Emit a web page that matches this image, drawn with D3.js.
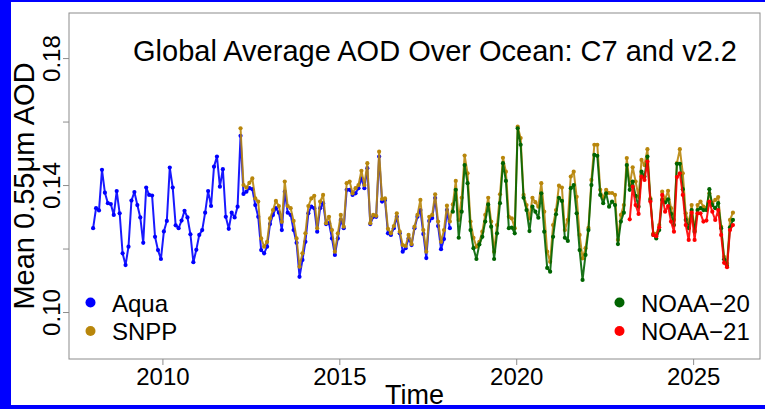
<!DOCTYPE html>
<html>
<head>
<meta charset="utf-8">
<script src="https://cdn.jsdelivr.net/npm/d3@7"></script>
<style>
    html, body { margin: 0; padding: 0; background: #fff; }
    svg { display: block; font-family: "Liberation Sans", Arial, Helvetica, sans-serif; }
</style>
</head>
<body>
<div id="chart"></div>
<script>
// Global average AOD over ocean — monthly series per sensor.
// Each series: start [year, month] + monthly values.

const aquaStart = [2008, 1];
const aquaValues = [
    0.1264, 0.1327, 0.1320, 0.1448, 0.1376, 0.1343, 0.1340, 0.1306, 0.1381, 0.1311, 0.1185, 0.1148,
    0.1206, 0.1351, 0.1378, 0.1337, 0.1298, 0.1218, 0.1392, 0.1369, 0.1367, 0.1237, 0.1195, 0.1167,
    0.1254, 0.1287, 0.1455, 0.1392, 0.1273, 0.1264, 0.1288, 0.1319, 0.1298, 0.1245, 0.1157, 0.1196,
    0.1243, 0.1258, 0.1313, 0.1381, 0.1334, 0.1458, 0.1490, 0.1395, 0.1450, 0.1300, 0.1262, 0.1313,
    0.1298, 0.1332,
    0.1555, 0.1372, 0.1379, 0.1390, 0.1387, 0.1337, 0.1300, 0.1195, 0.1185, 0.1206,
    0.1277, 0.1306, 0.1327, 0.1313, 0.1258, 0.1379, 0.1313, 0.1306, 0.1258, 0.1218, 0.1111, 0.1164,
    0.1221, 0.1311, 0.1332, 0.1327, 0.1253, 0.1327, 0.1343, 0.1277, 0.1280, 0.1232, 0.1180, 0.1232,
    0.1290, 0.1264, 0.1385, 0.1385, 0.1369, 0.1374, 0.1390, 0.1421, 0.1390, 0.1453, 0.1277, 0.1300,
    0.1300, 0.1490, 0.1348, 0.1353, 0.1248, 0.1243, 0.1264, 0.1300, 0.1248, 0.1190, 0.1201, 0.1232,
    0.1211, 0.1264, 0.1300, 0.1321, 0.1246, 0.1170, 0.1287, 0.1296, 0.1359, 0.1271, 0.1198, 0.1230,
    0.1321, 0.1264,
];

const snppStart = [2012, 3];
const snppValues = [
    0.1579, 0.1400, 0.1392, 0.1407, 0.1421, 0.1358, 0.1348, 0.1232, 0.1206, 0.1221,
    0.1295, 0.1321, 0.1350, 0.1334, 0.1284, 0.1411, 0.1334, 0.1327, 0.1287, 0.1232, 0.1143, 0.1185,
    0.1248, 0.1334, 0.1358, 0.1366, 0.1264, 0.1348, 0.1369, 0.1280, 0.1300, 0.1258, 0.1190, 0.1248,
    0.1306, 0.1269, 0.1406, 0.1411, 0.1374, 0.1390, 0.1400, 0.1445, 0.1400, 0.1469, 0.1280, 0.1306,
    0.1303, 0.1505, 0.1356, 0.1358, 0.1262, 0.1248, 0.1271, 0.1311, 0.1253, 0.1211, 0.1208, 0.1243,
    0.1214, 0.1269, 0.1306, 0.1353, 0.1258, 0.1190, 0.1300, 0.1306, 0.1371, 0.1285, 0.1221, 0.1258,
    0.1335, 0.1285, 0.1339, 0.1413, 0.1290, 0.1360, 0.1493, 0.1437, 0.1285, 0.1234, 0.1206, 0.1221,
    0.1253, 0.1306, 0.1360, 0.1285, 0.1190, 0.1274, 0.1371, 0.1486, 0.1442, 0.1300, 0.1295, 0.1264,
    0.1584, 0.1548, 0.1369, 0.1337, 0.1295, 0.1360, 0.1346, 0.1332, 0.1406, 0.1316, 0.1190, 0.1158,
    0.1274, 0.1321, 0.1398, 0.1392, 0.1258, 0.1290, 0.1427, 0.1442, 0.1363, 0.1243, 0.1169, 0.1201,
    0.1265, 0.1416, 0.1527, 0.1527, 0.1385, 0.1359, 0.1385, 0.1375, 0.1375, 0.1369, 0.1227, 0.1306,
    0.1337, 0.1485, 0.1400, 0.1456, 0.1411, 0.1363, 0.1479, 0.1463, 0.1513, 0.1358, 0.1248, 0.1246,
    0.1274, 0.1379, 0.1355, 0.1382, 0.1327, 0.1290, 0.1469, 0.1513, 0.1437, 0.1311, 0.1280, 0.1337,
    0.1258, 0.1337, 0.1348, 0.1332, 0.1327, 0.1374, 0.1343, 0.1353, 0.1362, 0.1269, 0.1174, 0.1153,
    0.1290, 0.1313,
];

const noaa20Start = [2018, 3];
const noaa20Values = [
    0.1316, 0.1385, 0.1234, 0.1316, 0.1463, 0.1406, 0.1258, 0.1201, 0.1167, 0.1213,
    0.1237, 0.1285, 0.1339, 0.1269, 0.1167, 0.1248, 0.1343, 0.1469, 0.1413, 0.1264, 0.1266, 0.1248,
    0.1579, 0.1527, 0.1360, 0.1321, 0.1255, 0.1332, 0.1316, 0.1297, 0.1374, 0.1253, 0.1139, 0.1127,
    0.1237, 0.1308, 0.1360, 0.1350, 0.1234, 0.1224, 0.1390, 0.1400, 0.1311, 0.1195, 0.1101, 0.1180,
    0.1258, 0.1400, 0.1495, 0.1492, 0.1369, 0.1343, 0.1374, 0.1332, 0.1348, 0.1337, 0.1214, 0.1285,
    0.1313, 0.1463, 0.1385, 0.1411, 0.1366, 0.1332, 0.1442, 0.1427, 0.1490, 0.1353, 0.1243, 0.1232,
    0.1258, 0.1353, 0.1345, 0.1355, 0.1309, 0.1274, 0.1467, 0.1467, 0.1387, 0.1290, 0.1264, 0.1321,
    0.1253, 0.1321, 0.1327, 0.1321, 0.1321, 0.1387, 0.1337, 0.1327, 0.1343, 0.1264, 0.1166, 0.1145,
    0.1267, 0.1290,
];

const noaa21Start = [2023, 3];
const noaa21Values = [
    0.1292, 0.1395, 0.1337, 0.1309, 0.1427, 0.1416, 0.1474, 0.1348, 0.1243, 0.1239,
    0.1267, 0.1369, 0.1316, 0.1334, 0.1285, 0.1253, 0.1425, 0.1437, 0.1369, 0.1274, 0.1227, 0.1313,
    0.1227, 0.1311, 0.1311, 0.1285, 0.1288, 0.1348, 0.1316, 0.1290, 0.1321, 0.1243, 0.1155, 0.1141,
    0.1258, 0.1274,
];

const seriesNames = ["Aqua", "SNPP", "NOAA\u221220", "NOAA\u221221"];
const seriesColors = ["#0000ff", "#b8860b", "#006400", "#ff0000"];

const xTicks = [2010, 2015, 2020, 2025];
const yTicks = [0.10, 0.12, 0.14, 0.16, 0.18];
const yTickLabels = ["0.10", "", "0.14", "", "0.18"];

const titleText = "Global Average AOD Over Ocean: C7 and v2.2";
const xLabel = "Time";
const yLabel = "Mean 0.55\u03bcm AOD";

// ---------------------------------------------------------------------

const W = 765, H = 409;
const box = { left: 69, right: 760, top: 13, bottom: 359 };

// month index -> decimal year (mid-month)
function toSeries(start, values) {
    const [y0, m0] = start;
    return values.map((v, i) => {
        const m = m0 - 1 + i;
        return { t: y0 + Math.floor(m / 12) + ((m % 12) + 0.5) / 12, v };
    });
}

const series = [
    toSeries(aquaStart, aquaValues),
    toSeries(snppStart, snppValues),
    toSeries(noaa20Start, noaa20Values),
    toSeries(noaa21Start, noaa21Values),
];

const svg = d3.select("#chart").append("svg")
    .attr("width", W).attr("height", H)
    .attr("viewBox", `0 0 ${W} ${H}`);

svg.append("rect").attr("width", W).attr("height", H).attr("fill", "#fff");

// blue frame around the picture
svg.append("rect").attr("x", 0).attr("y", 0).attr("width", 11).attr("height", H).attr("fill", "#0000ff");
svg.append("rect").attr("x", 0).attr("y", 0).attr("width", W).attr("height", 2).attr("fill", "#0000ff");
svg.append("rect").attr("x", 0).attr("y", H - 4).attr("width", W).attr("height", 4).attr("fill", "#0000ff");

const x = d3.scaleLinear().domain([2007.36, 2026.89]).range([box.left, box.right]);
const y = d3.scaleLinear().domain([0.0852, 0.1942]).range([box.bottom, box.top]);

// plot box
svg.append("rect")
    .attr("x", box.left).attr("y", box.top)
    .attr("width", box.right - box.left).attr("height", box.bottom - box.top)
    .attr("fill", "none").attr("stroke", "#8c8c8c").attr("stroke-width", 1);

// axes
const xAxis = svg.append("g")
    .attr("transform", `translate(0,${box.bottom})`)
    .call(d3.axisBottom(x).tickValues(xTicks).tickFormat(d3.format("d")).tickSize(6).tickPadding(3));
xAxis.select(".domain").remove();
xAxis.selectAll(".tick line").attr("stroke", "#8c8c8c");
xAxis.selectAll(".tick text")
    .attr("fill", "#000").attr("font-size", 24)
    .attr("font-family", "Liberation Sans, Arial, sans-serif");

const yAxis = svg.append("g")
    .attr("transform", `translate(${box.left},0)`)
    .call(d3.axisLeft(y).tickValues(yTicks).tickFormat((d, i) => yTickLabels[i]).tickSize(6).tickPadding(0));
yAxis.select(".domain").remove();
yAxis.selectAll(".tick line").attr("stroke", "#8c8c8c");
yAxis.selectAll(".tick text")
    .attr("fill", "#000").attr("font-size", 24)
    .attr("font-family", "Liberation Sans, Arial, sans-serif")
    .attr("x", null).attr("dy", null)
    .attr("text-anchor", "middle")
    .attr("transform", "translate(-9,0) rotate(-90)");

// series: lines then points, drawn in sensor order
const lineGen = d3.line().x((d) => x(d.t)).y((d) => y(d.v));

series.forEach((data, k) => {
    const g = svg.append("g");
    g.append("path")
        .datum(data)
        .attr("d", lineGen)
        .attr("fill", "none")
        .attr("stroke", seriesColors[k])
        .attr("stroke-width", 2)
        .attr("stroke-opacity", 0.9)
        .attr("stroke-linejoin", "round");
    g.selectAll("circle")
        .data(data)
        .join("circle")
        .attr("cx", (d) => x(d.t))
        .attr("cy", (d) => y(d.v))
        .attr("r", 2.1)
        .attr("fill", seriesColors[k]);
});

// title
svg.append("text")
    .attr("x", 435).attr("y", 61)
    .attr("text-anchor", "middle")
    .attr("font-size", 29)
    .text(titleText);

// axis titles
svg.append("text")
    .attr("x", (box.left + box.right) / 2).attr("y", 404)
    .attr("text-anchor", "middle")
    .attr("font-size", 27)
    .text(xLabel);

svg.append("text")
    .attr("transform", `translate(34,${(box.top + box.bottom) / 2}) rotate(-90)`)
    .attr("text-anchor", "middle")
    .attr("font-size", 29)
    .text(yLabel);

// legends
const legendLeft = [0, 1];
const legendRight = [2, 3];

function drawLegend(items, dotX, textX) {
    items.forEach((k, i) => {
        const cy = 302.5 + i * 28.5;
        svg.append("circle").attr("cx", dotX).attr("cy", cy).attr("r", 5).attr("fill", seriesColors[k]);
        svg.append("text")
            .attr("x", textX).attr("y", cy + 9)
            .attr("font-size", 24)
            .text(seriesNames[k]);
    });
}
drawLegend(legendLeft, 90.5, 112);
drawLegend(legendRight, 619.5, 641);
</script>
</body>
</html>
